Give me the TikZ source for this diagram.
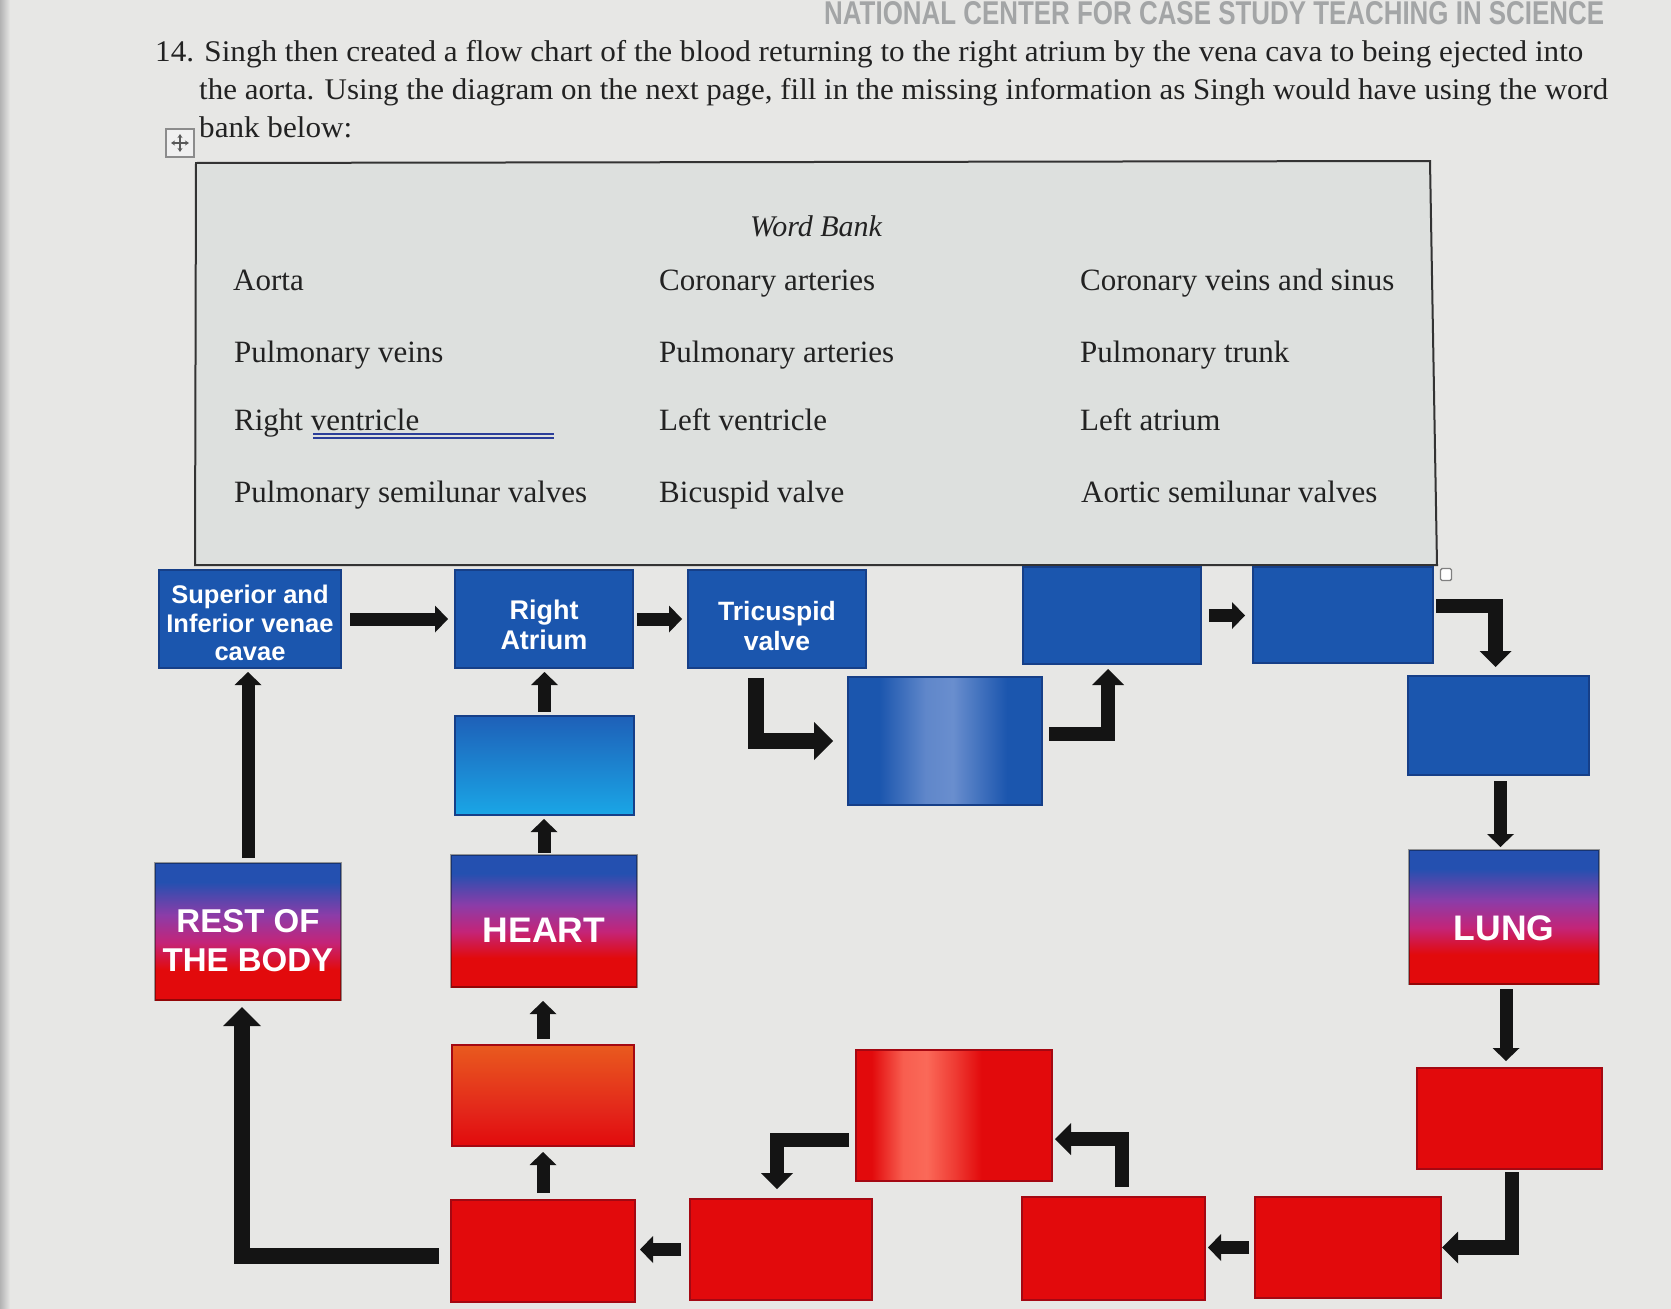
\documentclass[tikz,border=0pt]{standalone}
\usepackage{fontspec}
\usepackage{graphicx}
\setmainfont{Liberation Serif}
\newfontfamily\sansf{Liberation Sans}
\usetikzlibrary{arrows.meta,calc}

\definecolor{bgc}{HTML}{E7E7E5}
\definecolor{wbfill}{HTML}{DDE0DE}
\definecolor{glarec}{HTML}{F8F8F2}
\definecolor{bblue}{HTML}{1B56AE}
\definecolor{bborder}{HTML}{163F88}
\definecolor{rred}{HTML}{E20A0C}
\definecolor{rborder}{HTML}{A40812}
\definecolor{qtext}{HTML}{222222}
\definecolor{hdgray}{HTML}{A3A5A6}
\definecolor{ulblue}{HTML}{2B3E99}
\definecolor{gblue}{HTML}{2450B0}
\definecolor{gpurple}{HTML}{8C3CA8}
\definecolor{gmag}{HTML}{C42478}
\definecolor{cyanb}{HTML}{1AA6E6}
\definecolor{midblue}{HTML}{1E60B8}
\definecolor{orangeb}{HTML}{E95A1E}
\definecolor{orred}{HTML}{E3261A}
\definecolor{hlred}{HTML}{FF7A66}
\definecolor{hlblue}{HTML}{7D9CD6}
\definecolor{arrc}{HTML}{141414}

\pgfdeclareverticalshading{bpr}{100bp}{color(0bp)=(rred); color(25bp)=(rred); color(36bp)=(rred); color(46bp)=(gmag); color(56bp)=(gpurple); color(68bp)=(gblue); color(100bp)=(gblue)}
\pgfdeclareverticalshading{orng}{100bp}{color(0bp)=(rred); color(25bp)=(rred); color(42bp)=(orred); color(75bp)=(orangeb); color(100bp)=(orangeb)}
\pgfdeclarehorizontalshading{redhl}{100bp}{color(0bp)=(rred); color(29bp)=(rred); color(37bp)=(hlred!75!rred); color(43bp)=(hlred!85!rred); color(50bp)=(hlred!45!rred); color(57bp)=(rred); color(100bp)=(rred)}
\pgfdeclarehorizontalshading{bluehl}{100bp}{color(0bp)=(bblue); color(33bp)=(bblue); color(45bp)=(hlblue!70!bblue); color(52bp)=(hlblue!80!bblue); color(58bp)=(hlblue!45!bblue); color(66bp)=(bblue); color(100bp)=(bblue)}

\tikzset{
  bx/.style 2 args={rectangle, inner sep=0pt, outer sep=0pt, minimum width=#1pt, minimum height=#2pt, line width=1.5pt},
  bluebx/.style={draw=bborder, fill=bblue},
  redbx/.style={draw=rborder, fill=rred},
  gradbx/.style={draw=black, draw opacity=0.35, shade, shading=bpr},
  btxt/.style={text=white, align=center, inner sep=0pt, font=\sansf\bfseries},
  wb/.style={text=qtext, inner sep=0pt, anchor=base west, font=\fontsize{31}{36}\selectfont},
  qt/.style={text=qtext, inner sep=0pt, anchor=base west, font=\fontsize{30}{36}\selectfont},
  arr/.style={draw=arrc, line width=13pt, -{Triangle[width=27pt,length=13pt,line width=0pt]}},
  arrmid/.style={draw=arrc, line width=14.5pt, -{Triangle[width=32pt,length=16pt,line width=0pt]}},
  arrbig/.style={draw=arrc, line width=16pt, -{Triangle[width=38pt,length=19pt,line width=0pt]}}
}

\begin{document}
\begin{tikzpicture}[x=1pt,y=-1pt]
\useasboundingbox (0,0) rectangle (1671,1309);
\fill[bgc] (0,0) rectangle (1671,1309);
\shade[left color=black!30, right color=bgc] (0,0) rectangle (10,1309);
% screen glare on the background
\shade[left color=bgc, middle color=glarec, right color=bgc] (960,0) rectangle (1100,162);
\shade[left color=bgc, middle color=glarec!70!bgc, right color=bgc] (860,566) rectangle (1000,1309);

% word bank frame fill
\fill[wbfill] (196,163) -- (1430,161) -- (1437,565) -- (195,565) -- cycle;
\shade[left color=wbfill, middle color=glarec, right color=wbfill] (945,164) rectangle (1085,564);
\draw[black!80, line width=2pt] (196,163) -- (1430,161) -- (1437,565) -- (195,565) -- cycle;

% header
\node[anchor=base west, inner sep=0pt, text=hdgray] (hdr) at (824,24)
  {\resizebox{780pt}{23pt}{\sansf\bfseries NATIONAL CENTER FOR CASE STUDY TEACHING IN SCIENCE}};

% question
\node[qt] (q1) at (155,61) {\resizebox{1428pt}{\height}{14. Singh then created a flow chart of the blood returning to the right atrium by the vena cava to being ejected into}};
\node[qt] (q2) at (199,99) {\resizebox{1409pt}{\height}{the aorta. Using the diagram on the next page, fill in the missing information as Singh would have using the word}};
\node[qt] (q3) at (199,137) {\resizebox{153pt}{\height}{bank below:}};

% move icon
\node[draw=black!45, fill=black!6, line width=1.5pt, minimum size=28pt, inner sep=0pt] (mv) at (180,143) {};
\draw[black!65, line width=1.4pt, {Stealth[length=4pt,width=5pt]}-{Stealth[length=4pt,width=5pt]}] ($(mv)+(-9,0)$) -- ($(mv)+(9,0)$);
\draw[black!65, line width=1.4pt, {Stealth[length=4pt,width=5pt]}-{Stealth[length=4pt,width=5pt]}] ($(mv)+(0,-9)$) -- ($(mv)+(0,9)$);

% word bank
\node[anchor=base, inner sep=0pt, text=qtext, font=\fontsize{30}{36}\selectfont\itshape] (wbt) at (816,236) {Word Bank};
\node[wb] (w11) at (233,290) {Aorta};
\node[wb] (w12) at (659,290) {Coronary arteries};
\node[wb] (w13) at (1080,290) {Coronary veins and sinus};
\node[wb] (w21) at (234,362) {Pulmonary veins};
\node[wb] (w22) at (659,362) {Pulmonary arteries};
\node[wb] (w23) at (1080,362) {Pulmonary trunk};
\node[wb] (w31) at (234,430) {Right ventricle};
\node[wb] (w32) at (659,430) {Left ventricle};
\node[wb] (w33) at (1080,430) {Left atrium};
\node[wb] (w41) at (234,502) {Pulmonary semilunar valves};
\node[wb] (w42) at (659,502) {Bicuspid valve};
\node[wb] (w43) at (1081,502) {Aortic semilunar valves};
\draw[ulblue, line width=2pt] (313,433.5) -- (554,433.5);
\draw[ulblue, line width=2pt] (313,438) -- (554,438);

% small handle square
\node[draw=black!50, fill=white, rounded corners=1.5pt, line width=1.4pt, minimum width=11pt, minimum height=12pt, inner sep=0pt] (hdl) at (1446,574.5) {};

% boxes
\node[bx={182}{98}, bluebx] (vc) at (250,619) {};
\node[bx={178}{98}, bluebx] (ra) at (544,619) {};
\node[bx={178}{98}, bluebx] (tv) at (777,619) {};
\node[bx={178}{97}, bluebx] (b4) at (1112,615.5) {};
\node[bx={180}{96}, bluebx] (b5) at (1343,615) {};
\node[bx={179}{99}, draw=bborder, top color=midblue, bottom color=cyanb] (b6) at (544.5,765.5) {};
\node[bx={194}{128}, draw=bborder, shade, shading=bluehl] (b7) at (945,741) {};
\node[bx={181}{99}, bluebx] (b8) at (1498.5,725.5) {};
\node[bx={186}{137}, gradbx] (body) at (248,931.5) {};
\node[bx={186}{132}, gradbx] (heart) at (544,921) {};
\node[bx={190}{134}, gradbx] (lung) at (1504,917) {};
\node[bx={182}{101}, draw=rborder, shade, shading=orng] (b12) at (543,1095.5) {};
\node[bx={196}{131}, draw=rborder, shade, shading=redhl] (b13) at (954,1115.5) {};
\node[bx={185}{101}, redbx] (b14) at (1509.5,1118.5) {};
\node[bx={184}{102}, redbx] (b15) at (543,1251) {};
\node[bx={182}{101}, redbx] (b16) at (781,1249.5) {};
\node[bx={183}{103}, redbx] (b17) at (1113.5,1248.5) {};
\node[bx={186}{101}, redbx] (b18) at (1348,1247.5) {};

% box texts
\node[btxt, font=\sansf\bfseries\fontsize{25.5}{28.5}\selectfont] (vct) at (250,623) {Superior and\\Inferior venae\\cavae};
\node[btxt, font=\sansf\bfseries\fontsize{27}{30}\selectfont] (rat) at (544,625) {Right\\Atrium};
\node[btxt, font=\sansf\bfseries\fontsize{26.5}{30}\selectfont] (tvt) at (777,626) {Tricuspid\\valve};
\node[btxt, font=\sansf\bfseries\fontsize{33}{39}\selectfont] (bodyt) at (248,941) {REST OF\\THE BODY};
\node[btxt, font=\sansf\bfseries\fontsize{35.5}{40}\selectfont] (heartt) at (544,930) {HEART};
\node[btxt, font=\sansf\bfseries\fontsize{35.5}{40}\selectfont] (lungt) at (1504,928) {LUNG};

% connectors
\draw[arr] ([xshift=9pt]vc.east) -- ([xshift=-7pt]ra.west);
\draw[arr] ([xshift=4pt]ra.east) -- ([xshift=-6pt]ra.east -| tv.west);
\draw[arrbig] ($(tv.south)+(-21,10)$) |- ([xshift=-15pt]b7.west);
\draw[arrmid] ($(b7.east)+(7,-7)$) -| ($(b4.south)+(-4,5)$);
\draw[arr] ([xshift=8pt]b4.east) -- ([xshift=-8pt]b4.east -| b5.west);
\draw[arrmid] ($(b5.east)+(3,-9)$) -| ($(b8.north)+(-3,-9)$);
\draw[arr] ($(b8.south)+(2,6)$) -- ($(b8.south |- lung.north)+(2,-3)$);
\draw[arr] ($(lung.south)+(2,5)$) -- ($(lung.south |- b14.north)+(2,-7)$);
\draw[arrmid] ($(b14.south)+(2.5,3)$) |- ([xshift=1pt]b18.east);
\draw[arr] ([xshift=-6pt]b18.west) -- ([xshift=3pt]b18.west -| b17.east);
\draw[arrmid] ($(b17.north)+(8.5,-10)$) |- ($(b13.east)+(3,23.5)$);
\draw[arrmid] ($(b13.west)+(-7,24.5)$) -| ($(b16.north)+(-4,-10)$);
\draw[arr] ([xshift=-9pt]b16.west) -- ([xshift=5pt]b16.west -| b15.east);
\draw[arr] ([yshift=7pt]b15.north) -- ([yshift=-6pt]b15.north |- b12.south);
\draw[arr] ([yshift=6pt]b12.north) -- ([yshift=-14pt]b12.north |- heart.south);
\draw[arr] ([yshift=2pt]heart.north) -- ([yshift=-4pt]heart.north |- b6.south);
\draw[arr] ([yshift=4pt]b6.north) -- ([yshift=-4pt]b6.north |- ra.south);
\draw[arrbig] ([xshift=-12pt,yshift=-5pt]b15.west) -| ([xshift=-6pt,yshift=-7pt]body.south);
\draw[arr] ([yshift=5pt]body.north) -- ([yshift=-4pt]body.north |- vc.south);
\end{tikzpicture}
\end{document}
